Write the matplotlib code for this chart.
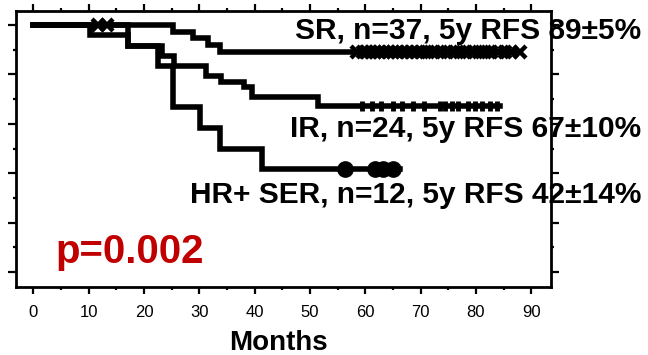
import numpy as np
import matplotlib.pyplot as plt
from matplotlib.ticker import MultipleLocator

plt.rcParams['font.family'] = ['Liberation Sans', 'DejaVu Sans']

# step curves: time of each drop (months) and survival level after it
sr_t = [0, 25.2, 28.9, 31.6, 33.7]
sr_s = [1.0, 0.973, 0.946, 0.919, 0.892]
sr_end = 88.0
sr_cens_t = [11.7, 13.3, 58.5, 59.5, 60.3, 61.0, 61.8, 62.5, 63.4, 64.2, 65.0, 65.8,
             66.7, 67.5, 68.4, 69.3, 70.2, 71.3, 72.5, 73.6, 74.8, 76.0, 77.1,
             78.2, 79.4, 80.5, 81.7, 82.8, 84.0, 85.2, 86.4, 88.0]

ir_t = [0, 10.2, 17.1, 23.2, 25.4, 31.2, 34.0, 38.0, 39.5, 51.4]
ir_s = [1.0, 0.958, 0.917, 0.875, 0.833, 0.792, 0.771, 0.75, 0.708, 0.674]
ir_end = 84.4
ir_cens_t = [59.4, 61.2, 62.8, 65.0, 66.6, 68.6, 70.6, 73.5, 74.4, 75.7, 76.8,
             78.6, 79.8, 81.1, 82.5, 83.8]

hr_t = [0, 17.1, 22.5, 25.2, 30.1, 33.7, 41.3]
hr_s = [1.0, 0.917, 0.833, 0.667, 0.583, 0.5, 0.417]
hr_end = 66.3
hr_cens_t = [56.3, 61.8, 63.2, 65.0]

labels = ['SR, n=37, 5y RFS 89\u00b15%',
          'IR, n=24, 5y RFS 67\u00b110%',
          'HR+ SER, n=12, 5y RFS 42\u00b114%']
p_text = 'p=0.002'

fig = plt.figure(figsize=(6.48, 3.55), dpi=100)
ax = fig.add_axes([0.0242, 0.1915, 0.8256, 0.7789])


def step_line(t, s, t_end):
    tt = list(t) + [t_end]
    ss = list(s) + [s[-1]]
    ax.step(tt, ss, where='post', color='black', lw=4, solid_joinstyle='miter')


def level_at(t, s, x):
    idx = np.searchsorted(t, x, side='right') - 1
    return np.array(s)[idx]


step_line(sr_t, sr_s, sr_end)
step_line(ir_t, ir_s, ir_end)
step_line(hr_t, hr_s, hr_end)

ax.plot(sr_cens_t, level_at(sr_t, sr_s, sr_cens_t), ls='none', marker='x',
        ms=8, mew=3.2, color='black')
ax.plot(ir_cens_t, level_at(ir_t, ir_s, ir_cens_t), ls='none', marker='|',
        ms=7, mew=3.5, color='black')
ax.plot(hr_cens_t, level_at(hr_t, hr_s, hr_cens_t), ls='none', marker='o',
        ms=11, color='black')

ax.set_xlim(-3.2, 93.5)
ax.set_ylim(-0.061, 1.059)
ax.xaxis.set_major_locator(MultipleLocator(10))
ax.xaxis.set_minor_locator(MultipleLocator(5))
ax.yaxis.set_major_locator(MultipleLocator(0.2))
ax.yaxis.set_minor_locator(MultipleLocator(0.1))
ax.tick_params(which='both', direction='out', top=True, right=True, width=1.6,
               labelleft=False, labeltop=False, labelright=False)
ax.tick_params(which='major', length=5)
ax.tick_params(which='minor', length=2.5)
ax.tick_params(axis='y', which='major', length=6)
ax.tick_params(axis='x', which='major', labelsize=12, pad=8)
for sp in ax.spines.values():
    sp.set_linewidth(2)

# group labels, right aligned past the plot frame
for lab, yb in zip(labels, [39, 137, 203]):
    fig.text(641 / 648, 1 - yb / 355, lab, ha='right', va='baseline',
             fontsize=21.5, fontweight='bold')

fig.text(55 / 648, 1 - 263 / 355, p_text, ha='left', va='baseline',
         fontsize=29, fontweight='bold', color='#c00000')
fig.text(278 / 648, 1 - 350 / 355, 'Months', ha='center', va='baseline',
         fontsize=20, fontweight='bold')

fig.savefig('out.png', dpi=100)
